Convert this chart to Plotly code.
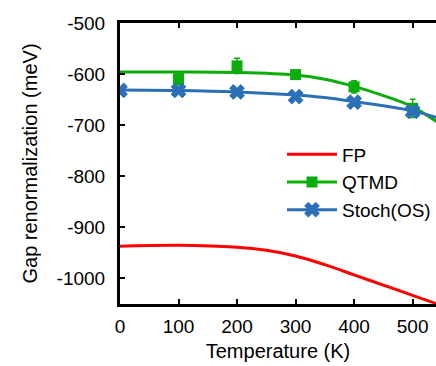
import plotly.graph_objects as go

# ---- data ----
fp_T = [0, 100, 200, 250, 300, 350, 400, 450, 500, 550]
fp_gap = [-937, -935, -939, -945, -956, -973, -993, -1013, -1033, -1053]

qtmd_fit_T = [0, 100, 200, 300, 350, 400, 450, 500, 550]
qtmd_fit_gap = [-596, -596, -597, -602, -610, -624, -642, -664, -700]
qtmd_T = [100, 200, 300, 400, 500]
qtmd_gap = [-609, -584, -601, -625, -667]
qtmd_err = [12, 15, 8, 12, 18]

stoch_fit_T = [0, 100, 200, 300, 350, 400, 450, 500, 550]
stoch_fit_gap = [-631, -632, -635, -641, -646, -654, -662, -672, -688]
stoch_T = [0, 100, 200, 300, 400, 500]
stoch_gap = [-632, -632, -635, -644, -655, -673]
stoch_err = [3, 3, 3, 3, 3, 3]

x_ticks = [0, 100, 200, 300, 400, 500]
y_ticks = [-500, -600, -700, -800, -900, -1000]
y_tick_text = ["-500", "-600", "-700", "-800", "-900", "-1000"]

RED = "#ff0000"
GREEN = "#0aad0a"
BLUE = "#2b70b6"


def gapped(values):
    out = []
    for i, v in enumerate(values):
        if i:
            out.append(None)
        out.append(v)
    return out


fig = go.Figure()

fig.add_trace(go.Scatter(x=fp_T, y=fp_gap, mode="lines", name="FP",
                         line=dict(color=RED, width=3, shape="spline")))

fig.add_trace(go.Scatter(x=qtmd_fit_T, y=qtmd_fit_gap, mode="lines", showlegend=False,
                         line=dict(color=GREEN, width=3, shape="spline")))
fig.add_trace(go.Scatter(x=gapped(qtmd_T), y=gapped(qtmd_gap), mode="lines+markers",
                         name="QTMD", connectgaps=False,
                         line=dict(color=GREEN, width=3),
                         marker=dict(symbol="square", size=11, color=GREEN),
                         error_y=dict(type="data", array=gapped(qtmd_err), color=GREEN,
                                      thickness=1.5, width=3)))

fig.add_trace(go.Scatter(x=stoch_fit_T, y=stoch_fit_gap, mode="lines", showlegend=False,
                         line=dict(color=BLUE, width=3, shape="spline")))
fig.add_trace(go.Scatter(x=gapped(stoch_T), y=gapped(stoch_gap), mode="lines+markers",
                         name="Stoch(OS)", connectgaps=False,
                         line=dict(color=BLUE, width=3),
                         marker=dict(symbol="x", size=13, color=BLUE,
                                     line=dict(color=BLUE, width=1)),
                         error_y=dict(type="data", array=gapped(stoch_err), color=BLUE,
                                      thickness=1.5, width=3)))

axis_common = dict(showgrid=False, zeroline=False, showline=True, linecolor="black",
                   linewidth=3, ticks="inside", ticklen=5, tickwidth=1.5,
                   tickcolor="black", tickfont=dict(size=19, color="black"))

fig.update_layout(
    width=436, height=366,
    margin=dict(l=120, r=0, t=23, b=62),
    paper_bgcolor="white", plot_bgcolor="white",
    font=dict(family="Liberation Sans, Arial, sans-serif", size=19, color="black"),
    xaxis=dict(range=[0, 540], tickvals=x_ticks, mirror="ticks", ticklabelstandoff=3,
               title=dict(text="Temperature (K)", standoff=9, font=dict(size=20)),
               **axis_common),
    yaxis=dict(range=[-1050, -500], tickvals=y_ticks, ticktext=y_tick_text,
               ticklabelstandoff=8,
               title=dict(text="Gap renormalization (meV)", standoff=14, font=dict(size=20)),
               **axis_common),
    legend=dict(x=1, xanchor="right", y=0.6, yanchor="top",
                bgcolor="rgba(255,255,255,0)", font=dict(size=19),
                tracegroupgap=0, itemwidth=50),
)

fig.write_html("out.html", config={"displayModeBar": False},
               post_script="document.body.style.margin='0';")
